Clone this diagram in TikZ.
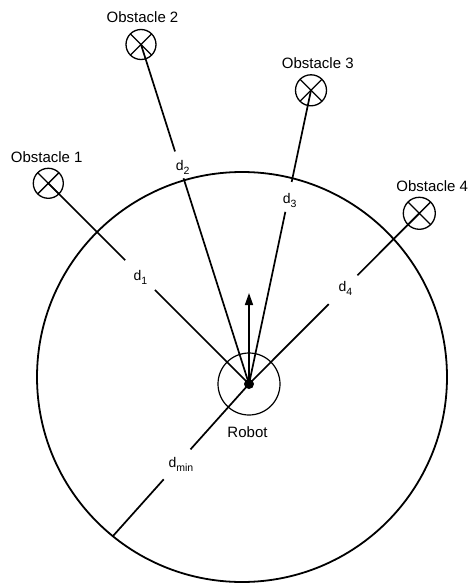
\documentclass[tikz,border=0pt]{standalone}
\usepackage{fontspec}
\setmainfont{Liberation Sans}
\usetikzlibrary{calc,arrows.meta}
\newcommand\subs[1]{\raisebox{-4pt}{\fontsize{10.5}{12}\selectfont #1}}
\begin{document}
\begin{tikzpicture}[x=1pt,y=-1pt,
  lbl/.style={font=\fontsize{15}{18}\selectfont, inner sep=0pt},
  dl/.style={font=\fontsize{14}{16}\selectfont, inner sep=0pt},
  obst/.style={circle,draw,line width=1.3pt,minimum size=30pt,inner sep=0pt,
    path picture={\draw[line width=1.3pt]
      (path picture bounding box.south west)--(path picture bounding box.north east)
      (path picture bounding box.north west)--(path picture bounding box.south east);}},
  conn/.style={line width=1.7pt},
]
\useasboundingbox (0,0) rectangle (469,583);
% centres
\coordinate (C) at (242,377);
\coordinate (rc) at (249,384);
\coordinate (dm) at (113,536);
\coordinate (head) at (249,293);
% obstacles
\node[obst] (o1) at (48.3,183.3) {};
\node[obst] (o2) at (141,44.5) {};
\node[obst,minimum size=31pt] (o3) at (311,90.3) {};
\node[obst,minimum size=32pt] (o4) at (419.3,213.3) {};
% connectors with gaps
\draw[conn] (o1.center) -- ($(o1.center)!0.383!(rc)$);
\draw[conn] ($(o1.center)!0.531!(rc)$) -- (rc);
\draw[conn] (o2.center) -- ($(o2.center)!0.315!(rc)$);
\draw[conn] ($(o2.center)!0.394!(rc)$) -- (rc);
\draw[conn] (o3.center) -- ($(o3.center)!0.312!(rc)$);
\draw[conn] ($(o3.center)!0.414!(rc)$) -- (rc);
\draw[conn] (o4.center) -- ($(o4.center)!0.363!(rc)$);
\draw[conn] ($(o4.center)!0.532!(rc)$) -- (rc);
\draw[conn] (rc) -- ($(rc)!0.43!(dm)$);
\draw[conn] ($(rc)!0.627!(dm)$) -- (dm);
% big circle
\draw[line width=1.8pt] (C) circle[radius=205pt];
% robot
\node[circle,draw,line width=1.2pt,minimum size=62pt,inner sep=0pt] (body) at (rc) {};
\node[circle,fill,minimum size=10pt,inner sep=0pt] (rob) at (rc) {};
\draw[line width=1.5pt,-{Triangle[length=12pt,width=8pt]}] (rob.center) -- (head);
% labels
\node[lbl] (t1) at (46.7,157.2) {Obstacle 1};
\node[lbl] (t2) at (142.5,17.5) {Obstacle 2};
\node[lbl] (t3) at (317.8,63.3) {Obstacle 3};
\node[lbl] (t4) at (432.2,186.2) {Obstacle 4};
\node[lbl] (tr) at (247.5,432) {Robot};
\node[dl,anchor=base west] (d1) at (133.3,280.7) {d\subs{1}};
\node[dl,anchor=base west] (d2) at (175.7,170.7) {d\subs{2}};
\node[dl,anchor=base west] (d3) at (282.7,203.3) {d\subs{3}};
\node[dl,anchor=base west] (d4) at (338.3,291.7) {d\subs{4}};
\node[dl,anchor=base west] (dmn) at (168.3,467.3) {d\subs{min}};
\end{tikzpicture}
\end{document}
